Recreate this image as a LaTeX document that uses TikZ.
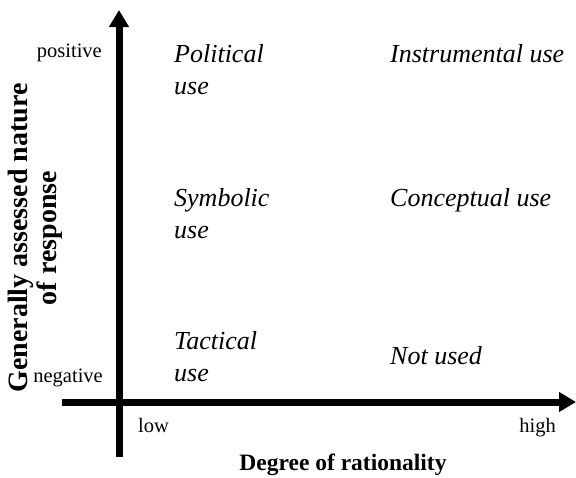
\documentclass[tikz,border=0pt]{standalone}
\usepackage{fontspec}
\setmainfont{Liberation Serif}
\usetikzlibrary{arrows.meta}
\begin{document}
\begin{tikzpicture}[x=1pt,y=-1pt,
  axis/.style={line width=7pt,-{Triangle[length=17pt,width=19pt]}},
  quad/.style={anchor=base west,inner sep=0pt,align=left,font=\fontsize{26}{32}\selectfont\itshape},
  level/.style={inner sep=0pt,font=\fontsize{20.5}{24}\selectfont},
  title/.style={inner sep=0pt,align=center,font=\fontsize{28}{29}\selectfont\bfseries}]
\useasboundingbox (0,0) rectangle (576,477);
% axes
\coordinate (origin) at (119,402);
\coordinate (ybot) at (119,457);
\coordinate (ytop) at (119,10);
\coordinate (xleft) at (62,402);
\coordinate (xright) at (576,402);
\draw[axis] (ybot) -- (ytop);
\draw[axis] (xleft) -- (xright);
% axis labels
\node[level,anchor=base east] (pos) at (102,57) {positive};
\node[level,anchor=base east] (neg) at (103,382) {negative};
\node[level,anchor=base west] (low) at (138,432) {low};
\node[level,anchor=base east] (high) at (556,432) {high};
\node[title,font=\fontsize{23.5}{27}\selectfont\bfseries] (xtitle) at (343,465) {Degree of rationality};
\node[title,rotate=90] (ytitle) at (35,238) {Generally assessed nature\\of response};
% quadrants
\node[quad] (political) at (174,94) {Political\\use};
\node[quad] (symbolic) at (174,238) {Symbolic\\use};
\node[quad] (tactical) at (174,381) {Tactical\\use};
\node[quad] (instrumental) at (390,62) {Instrumental use};
\node[quad] (conceptual) at (390,206) {Conceptual use};
\node[quad] (notused) at (390,364) {Not used};
\end{tikzpicture}
\end{document}
